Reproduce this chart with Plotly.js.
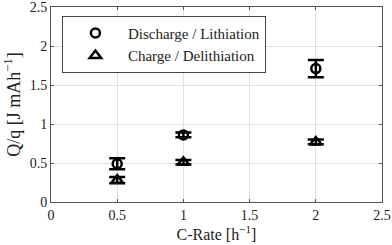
<!DOCTYPE html>
<html><head><meta charset="utf-8">
<script src="https://cdn.plot.ly/plotly-3.0.1.min.js"></script>
<style>body{margin:0;padding:0;background:#fff}#chart{width:392px;height:245px}</style>
</head><body><div id="chart"></div>
<script>
const cRate = [0.5, 1, 2];
const dischargeVals = [0.49, 0.86, 1.71];
const dischargeErr = [0.07, 0.03, 0.11];
const chargeVals = [0.28, 0.51, 0.77];
const chargeErr = [0.04, 0.03, 0.03];
const xTicks = [0, 0.5, 1, 1.5, 2, 2.5];
const yTicks = [0, 0.5, 1, 1.5, 2, 2.5];
const tickText = ['0', '0.5', '1', '1.5', '2', '2.5'];

const font = 'Liberation Serif, DejaVu Serif, serif';
const traces = [
  {x: cRate, y: dischargeVals, name: 'Discharge / Lithiation', type: 'scatter', mode: 'markers',
   marker: {symbol: 'circle-open', size: 9, color: '#000', line: {width: 2.5, color: '#000'}},
   error_y: {type: 'data', array: dischargeErr, visible: true, color: '#000', thickness: 2.5, width: 8}},
  {x: cRate, y: chargeVals, name: 'Charge / Delithiation', type: 'scatter', mode: 'markers',
   marker: {symbol: 'triangle-up-open', size: 10, color: '#000', line: {width: 2.5, color: '#000'}},
   error_y: {type: 'data', array: chargeErr, visible: true, color: '#000', thickness: 2.5, width: 8}}
];
const axisBase = {showline: true, mirror: 'ticks', linecolor: '#555', linewidth: 1,
  ticks: 'inside', ticklen: 3, tickcolor: '#555', showgrid: true, gridcolor: '#e0e0e0', gridwidth: 1,
  zeroline: false, ticklabeloverflow: 'allow', tickfont: {family: font, size: 14, color: '#222'}};
const layout = {
  width: 392, height: 245,
  margin: {l: 51, r: 10, t: 7, b: 43},
  paper_bgcolor: '#fff', plot_bgcolor: '#fff',
  font: {family: font, color: '#222'},
  showlegend: true,
  legend: {x: 0.033, y: 0.955, xanchor: 'left', yanchor: 'top', bgcolor: '#fff',
    bordercolor: '#444', borderwidth: 1, font: {family: font, size: 15, color: '#222'},
    itemwidth: 55, tracegroupgap: 0},
  xaxis: Object.assign({}, axisBase, {range: [0, 2.5], tickvals: xTicks, ticktext: tickText,
    title: {text: 'C-Rate [h<sup>−1</sup>]', font: {family: font, size: 16, color: '#222'}, standoff: 3}}),
  yaxis: Object.assign({}, axisBase, {range: [0, 2.5], tickvals: yTicks, ticktext: tickText,
    title: {text: 'Q/q [J mAh<sup>−1</sup>]', font: {family: font, size: 18, color: '#222'}, standoff: 4}})
};
Plotly.newPlot('chart', traces, layout, {displayModeBar: false, staticPlot: true});
</script></body></html>
